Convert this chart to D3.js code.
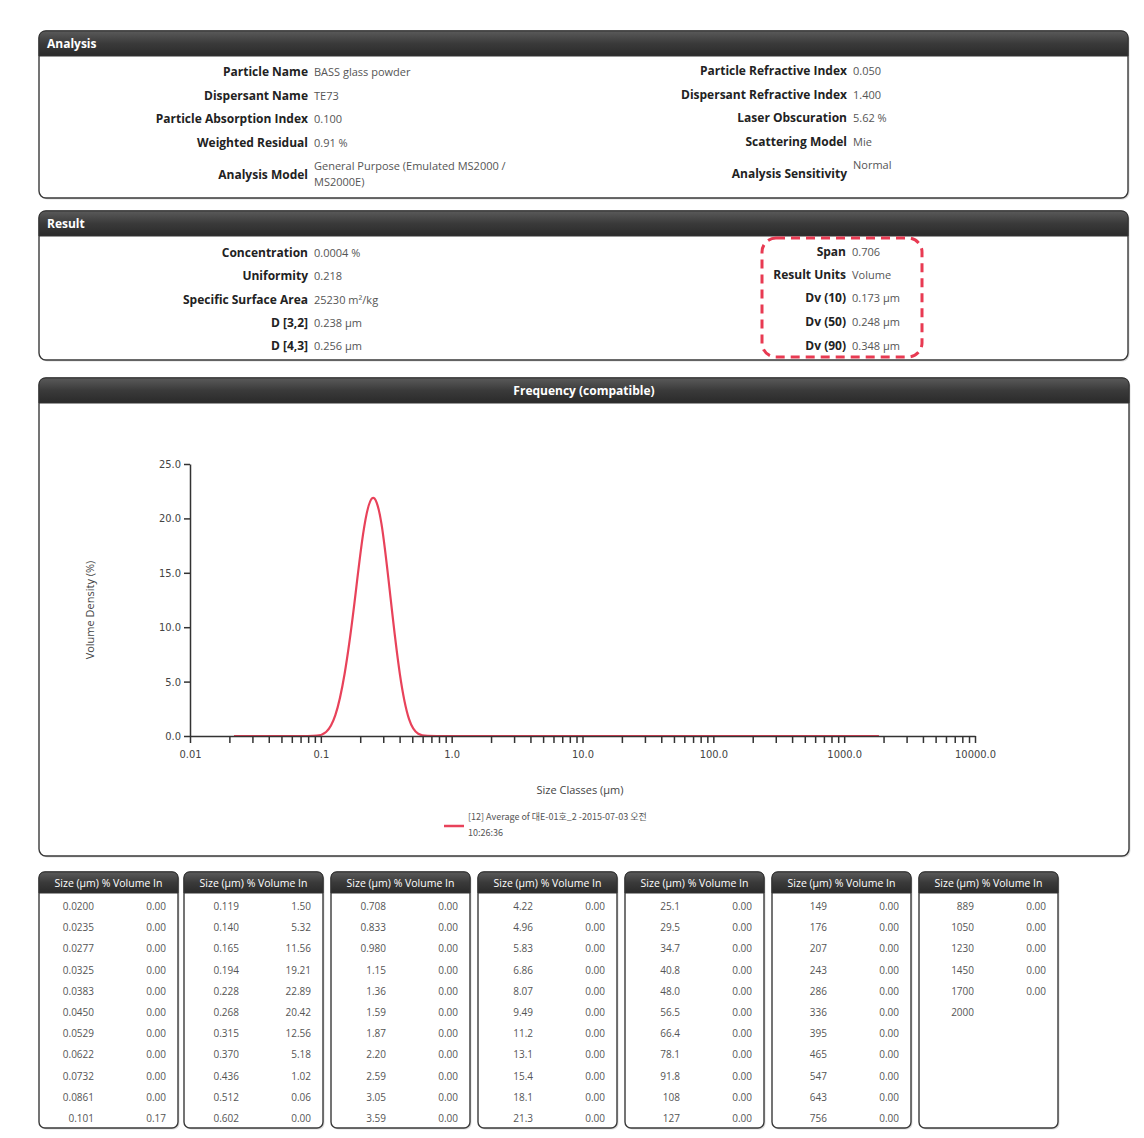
<!DOCTYPE html>
<html><head><meta charset="utf-8">
<script src="https://cdn.jsdelivr.net/npm/d3@7"></script>
<style>
body{margin:0;background:#fff;}
svg{display:block;font-family:"Open Sans","DejaVu Sans",sans-serif;}
</style></head>
<body><svg id="c" width="1144" height="1138"></svg>
<script>
// ---------- data ----------
const analysisLeftLabels = ["Particle Name","Dispersant Name","Particle Absorption Index","Weighted Residual","Analysis Model"];
const analysisLeftValues = [["BASS glass powder"],["TE73"],["0.100"],["0.91 %"],["General Purpose (Emulated MS2000 /","MS2000E)"]];
const analysisRightLabels = ["Particle Refractive Index","Dispersant Refractive Index","Laser Obscuration","Scattering Model","Analysis Sensitivity"];
const analysisRightValues = [["0.050"],["1.400"],["5.62 %"],["Mie"],["Normal"]];
const resultLeftLabels = ["Concentration","Uniformity","Specific Surface Area","D [3,2]","D [4,3]"];
const resultLeftValues = ["0.0004 %","0.218","25230 m²/kg","0.238 μm","0.256 μm"];
const resultRightLabels = ["Span","Result Units","Dv (10)","Dv (50)","Dv (90)"];
const resultRightValues = ["0.706","Volume","0.173 μm","0.248 μm","0.348 μm"];

const sizes = [0.0200,0.0235,0.0277,0.0325,0.0383,0.0450,0.0529,0.0622,0.0732,0.0861,0.101,
  0.119,0.140,0.165,0.194,0.228,0.268,0.315,0.370,0.436,0.512,0.602,
  0.708,0.833,0.980,1.15,1.36,1.59,1.87,2.20,2.59,3.05,3.59,
  4.22,4.96,5.83,6.86,8.07,9.49,11.2,13.1,15.4,18.1,21.3,
  25.1,29.5,34.7,40.8,48.0,56.5,66.4,78.1,91.8,108,127,
  149,176,207,243,286,336,395,465,547,643,756,
  889,1050,1230,1450,1700,2000];
const sizeLabels = ["0.0200","0.0235","0.0277","0.0325","0.0383","0.0450","0.0529","0.0622","0.0732","0.0861","0.101",
  "0.119","0.140","0.165","0.194","0.228","0.268","0.315","0.370","0.436","0.512","0.602",
  "0.708","0.833","0.980","1.15","1.36","1.59","1.87","2.20","2.59","3.05","3.59",
  "4.22","4.96","5.83","6.86","8.07","9.49","11.2","13.1","15.4","18.1","21.3",
  "25.1","29.5","34.7","40.8","48.0","56.5","66.4","78.1","91.8","108","127",
  "149","176","207","243","286","336","395","465","547","643","756",
  "889","1050","1230","1450","1700","2000"];
const volumes = [0,0,0,0,0,0,0,0,0,0,0.17,
  1.50,5.32,11.56,19.21,22.89,20.42,12.56,5.18,1.02,0.06,0.00,
  0,0,0,0,0,0,0,0,0,0,0,
  0,0,0,0,0,0,0,0,0,0,0,
  0,0,0,0,0,0,0,0,0,0,0,
  0,0,0,0,0,0,0,0,0,0,0,
  0,0,0,0,0];
const yTicks = [0,5,10,15,20,25];
const xDecades = [0.01,0.1,1,10,100,1000,10000];
const xDecadeLabels = ["0.01","0.1","1.0","10.0","100.0","1000.0","10000.0"];
const legendLines = ["[12] Average of 대E-01호_2 -2015-07-03 오전","10:26:36"];

// ---------- drawing ----------
const svg = d3.select("#c");
const defs = svg.append("defs");
const g = defs.append("linearGradient").attr("id","hdr").attr("x1",0).attr("y1",0).attr("x2",0).attr("y2",1);
g.append("stop").attr("offset","0").attr("stop-color","#5a5a5a");
g.append("stop").attr("offset","0.5").attr("stop-color","#3a3a3a");
g.append("stop").attr("offset","1").attr("stop-color","#2a2a2a");

function panel(x,y,w,h,hh,r,title,titleAnchor){
  const grp = svg.append("g");
  grp.append("rect").attr("x",x+1.5).attr("y",y+1.5).attr("width",w).attr("height",h).attr("rx",r)
    .attr("fill","#bbb").attr("opacity",0.5);
  grp.append("rect").attr("x",x).attr("y",y).attr("width",w).attr("height",h).attr("rx",r)
    .attr("fill","#fff").attr("stroke","#3a3a3a").attr("stroke-width",1.4);
  const p = `M${x},${y+hh} L${x},${y+r} Q${x},${y} ${x+r},${y} L${x+w-r},${y} Q${x+w},${y} ${x+w},${y+r} L${x+w},${y+hh} Z`;
  grp.append("path").attr("d",p).attr("fill","url(#hdr)").attr("stroke","#333").attr("stroke-width",1);
  const t = grp.append("text").attr("y",y+hh/2+4).attr("fill","#fff").attr("font-weight","bold")
    .attr("font-size",titleAnchor==="table"?10.5:12).text(title);
  if(titleAnchor==="middle") t.attr("x",x+w/2).attr("text-anchor","middle");
  else if(titleAnchor==="table") t.attr("x",x+w/2).attr("text-anchor","middle").attr("font-weight","normal");
  else t.attr("x",x+8);
  return grp;
}

function rows(labels, values, labelX, ys){
  labels.forEach((l,i)=>{
    svg.append("text").attr("x",labelX).attr("y",ys[i]).attr("text-anchor","end")
      .attr("font-size",12).attr("font-weight","bold").attr("fill","#222").text(l);
    const v = values[i];
    if(Array.isArray(v) && v.length>1){
      v.forEach((s,j)=> svg.append("text").attr("x",labelX+6).attr("y",ys[i]-9+j*16)
        .attr("font-size",11).attr("fill","#555").text(s));
    } else {
      const s = Array.isArray(v)?v[0]:v;
      const dy = (l==="Analysis Sensitivity")? -9 : 0;
      svg.append("text").attr("x",labelX+6).attr("y",ys[i]+dy)
        .attr("font-size",11).attr("fill","#555").text(s);
    }
  });
}

// Analysis panel
panel(39,31,1089,167,25,7,"Analysis","start");
rows(analysisLeftLabels, analysisLeftValues, 308, [76,100,123,147,179]);
rows(analysisRightLabels, analysisRightValues, 847, [75,99,122,146,178]);

// Result panel
panel(39,211,1089,149,25,7,"Result","start");
rows(resultLeftLabels, resultLeftValues, 308, [257,280,304,327,350]);
rows(resultRightLabels, resultRightValues, 846, [256,279,302,326,350]);
svg.append("rect").attr("x",762).attr("y",238).attr("width",160).attr("height",119).attr("rx",14)
  .attr("fill","none").attr("stroke","#e83a52").attr("stroke-width",3).attr("stroke-dasharray","9,6");

// Frequency panel
panel(39,378,1090,478,25,7,"Frequency (compatible)","middle");

const x = d3.scaleLog().domain([0.01,10000]).range([190,975]);
const y = d3.scaleLinear().domain([0,25]).range([736,464]);

// curve from table: geometric midpoints of classes
const pts = volumes.map((v,i)=>[Math.sqrt(sizes[i]*sizes[i+1]), v]);
const line = d3.line().x(d=>x(d[0])).y(d=>y(d[1])).curve(d3.curveBasis);
svg.append("path").datum(pts).attr("d",line).attr("fill","none").attr("stroke","#e8425a").attr("stroke-width",2.2);

// y axis
const ya = svg.append("g").attr("transform","translate(190,0)")
  .call(d3.axisLeft(y).tickValues(yTicks).tickFormat(d3.format(".1f")).tickSize(6).tickSizeOuter(0));
ya.selectAll("text").attr("font-size",11).attr("fill","#444").attr("font-family","'DejaVu Sans Condensed','DejaVu Sans',sans-serif");
ya.selectAll("line,path").attr("stroke","#333").attr("stroke-width",1.5);

// x axis with minor ticks
const allTicks = [];
for(let e=-2;e<4;e++){ for(let m=1;m<10;m++) allTicks.push(m*Math.pow(10,e)); }
allTicks.push(10000);
const xa = svg.append("g").attr("transform","translate(0,736)")
  .call(d3.axisBottom(x).tickValues(allTicks).tickSize(7).tickSizeOuter(0)
    .tickFormat(d=>{const k = xDecades.findIndex(v=>Math.abs(v-d)/d<1e-6); return k>=0?xDecadeLabels[k]:"";}));
xa.selectAll("text").attr("font-size",11).attr("fill","#444").attr("dy","1.1em").attr("font-family","'DejaVu Sans Condensed','DejaVu Sans',sans-serif");
xa.selectAll("line,path").attr("stroke","#333").attr("stroke-width",1.5);

// axis titles
svg.append("text").attr("transform","translate(94,610) rotate(-90)").attr("text-anchor","middle")
  .attr("font-size",11).attr("fill","#444").text("Volume Density (%)");
svg.append("text").attr("x",580).attr("y",794).attr("text-anchor","middle")
  .attr("font-size",11).attr("fill","#444").text("Size Classes (μm)");

// legend
svg.append("line").attr("x1",444).attr("x2",464).attr("y1",826).attr("y2",826).attr("stroke","#e8425a").attr("stroke-width",2.5);
legendLines.forEach((s,i)=> svg.append("text").attr("x",468).attr("y",820+i*16)
  .attr("font-size",9).attr("fill","#555").attr("font-family","'Noto Sans CJK KR','Open Sans',sans-serif").text(s));

// tables
const tableX = [39,184,331,478,625,772,919];
const perCol = 11;
tableX.forEach((tx,c)=>{
  panel(tx,872,139,256,21,6,"Size (μm)  % Volume In","table");
  for(let r=0;r<perCol;r++){
    const idx = c*perCol+r;
    if(idx>=sizes.length) break;
    const yy = 910 + r*21.2;
    svg.append("text").attr("x",tx+55).attr("y",yy).attr("text-anchor","end")
      .attr("font-size",10).attr("fill","#555").text(sizeLabels[idx]);
    if(idx<volumes.length)
      svg.append("text").attr("x",tx+127).attr("y",yy).attr("text-anchor","end")
        .attr("font-size",10).attr("fill","#555").text(volumes[idx].toFixed(2));
  }
});
</script></body></html>
